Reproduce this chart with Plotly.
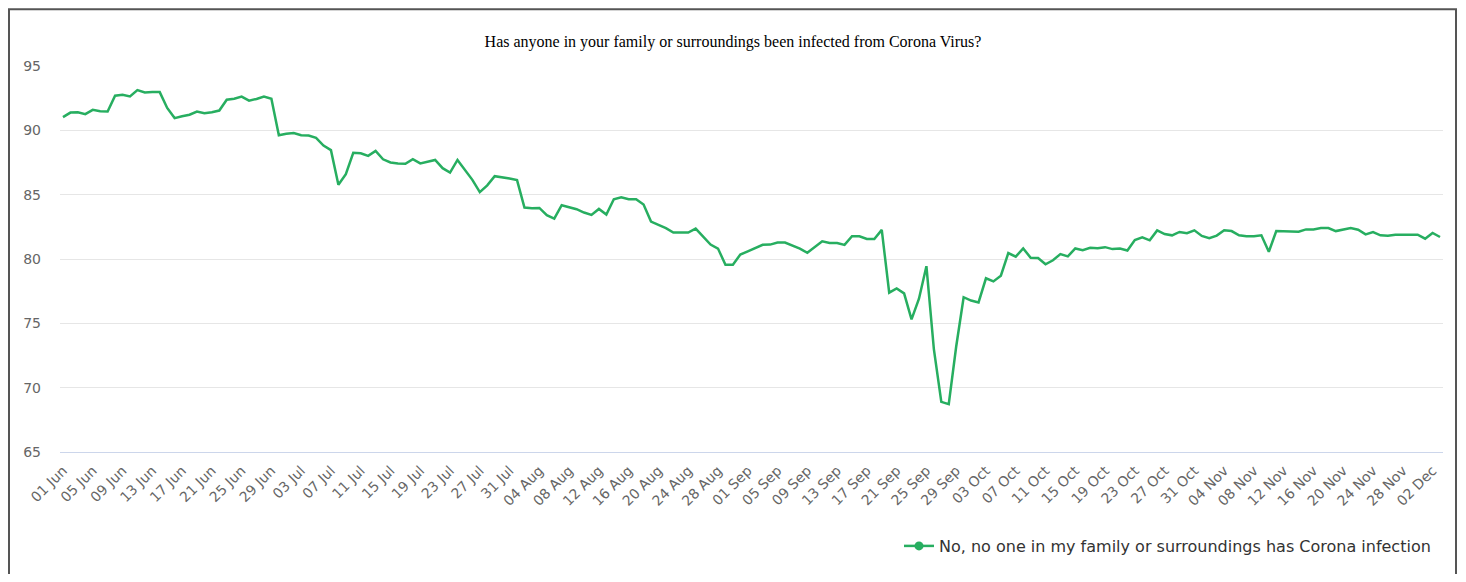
import pandas as pd
import plotly.graph_objects as go

title_text = "Has anyone in your family or surroundings been infected from Corona Virus?"
series_name = "No, no one in my family or surroundings has Corona infection"

dates = pd.date_range("2020-06-01", periods=186, freq="D")
categories = [d.strftime("%d %b") for d in dates]

values = [
    91.03, 91.38, 91.41, 91.26, 91.59, 91.49, 91.46, 92.69, 92.77, 92.64,
    93.13, 92.95, 92.97, 92.97, 91.74, 90.95, 91.10, 91.21, 91.46, 91.33,
    91.41, 91.54, 92.38, 92.46, 92.62, 92.31, 92.44, 92.62, 92.46, 89.62,
    89.74, 89.79, 89.62, 89.59, 89.41, 88.82, 88.46, 85.77, 86.59, 88.26,
    88.22, 88.02, 88.40, 87.75, 87.50, 87.42, 87.40, 87.76, 87.43, 87.57,
    87.70, 87.06, 86.72, 87.70, 86.95, 86.15, 85.20, 85.72, 86.44, 86.37,
    86.26, 86.13, 84.00, 83.94, 83.97, 83.40, 83.14, 84.18, 84.02, 83.87,
    83.61, 83.43, 83.89, 83.45, 84.64, 84.79, 84.64, 84.64, 84.23, 82.91,
    82.65, 82.40, 82.06, 82.06, 82.06, 82.36, 81.77, 81.12, 80.81, 79.56,
    79.56, 80.35, 80.60, 80.86, 81.10, 81.12, 81.28, 81.28, 81.05, 80.81,
    80.48, 80.94, 81.38, 81.25, 81.25, 81.10, 81.77, 81.77, 81.56, 81.56,
    82.26, 77.38, 77.71, 77.33, 75.31, 76.91, 79.44, 73.00, 68.90, 68.72,
    73.20, 77.03, 76.77, 76.62, 78.50, 78.26, 78.70, 80.46, 80.18, 80.82,
    80.10, 80.08, 79.59, 79.90, 80.38, 80.20, 80.82, 80.69, 80.87, 80.84,
    80.92, 80.77, 80.82, 80.66, 81.48, 81.68, 81.45, 82.22, 81.94, 81.84,
    82.10, 82.00, 82.23, 81.79, 81.62, 81.82, 82.24, 82.17, 81.84, 81.76,
    81.76, 81.84, 80.56, 82.17, 82.17, 82.12, 82.12, 82.30, 82.30, 82.40,
    82.40, 82.17, 82.30, 82.40, 82.27, 81.91, 82.09, 81.84, 81.81, 81.89,
    81.89, 81.89, 81.89, 81.58, 82.02, 81.71,
]

tick_labels = categories[::4]
y_ticks = [65, 70, 75, 80, 85, 90, 95]

GREEN = "#27ae60"
FONT = "DejaVu Sans"

# page offset of the figure (default body margin of the html page)
OFF = 8
PAGE_W, PAGE_H = 1466, 582
W, H = PAGE_W - 2 * OFF, PAGE_H - 2 * OFF
PLOT_L, PLOT_R, PLOT_T, PLOT_B = 60, 1443, 66, 453  # page pixels
L = PLOT_L - OFF
R = (OFF + W) - PLOT_R
T = PLOT_T - OFF
B = (OFF + H) - PLOT_B
pw, ph = PLOT_R - PLOT_L, PLOT_B - PLOT_T

fig = go.Figure()
fig.add_trace(go.Scatter(
    x=categories, y=values, mode="lines",
    line=dict(color=GREEN, width=2.5),
    showlegend=False, name=series_name,
))
fig.add_trace(go.Scatter(
    x=[None], y=[None], mode="lines+markers",
    line=dict(color=GREEN, width=2.5),
    marker=dict(color=GREEN, size=9),
    name=series_name, showlegend=True,
))


def px_x(p):
    return (p - PLOT_L) / pw


def px_y(p):
    return (PLOT_B - p) / ph


fig.add_shape(type="rect", xref="paper", yref="paper",
              x0=px_x(9), x1=px_x(1456), y0=px_y(640), y1=px_y(9),
              line=dict(color="#555555", width=2), fillcolor="rgba(0,0,0,0)",
              layer="above")

fig.update_layout(
    width=W, height=H,
    margin=dict(l=L, r=R, t=T, b=B, pad=0),
    paper_bgcolor="white", plot_bgcolor="white",
    title=dict(text=title_text, x=(733 - OFF) / W, xanchor="center", xref="container",
               y=1 - (41 - OFF) / H, yanchor="middle", yref="container",
               font=dict(family="Liberation Serif", size=16, color="#000000")),
    font=dict(family=FONT, color="#666666"),
    xaxis=dict(
        type="category", range=[-0.4, 185.4],
        tickmode="array", tickvals=tick_labels, ticktext=tick_labels,
        tickangle=-45, tickfont=dict(family=FONT, size=14, color="#666666"),
        showgrid=False, showline=True, linecolor="#ccd6eb", linewidth=1,
        ticks="", zeroline=False, ticklabelstandoff=4,
    ),
    yaxis=dict(
        range=[65, 95], tickvals=y_ticks, ticktext=[str(v) for v in y_ticks],
        tickfont=dict(family=FONT, size=14, color="#666666"),
        showgrid=True, gridcolor="#e6e6e6", gridwidth=1,
        zeroline=False, showline=False, ticks="", ticklabelstandoff=18,
    ),
    legend=dict(
        x=px_x(1436), xanchor="right", y=px_y(546), yanchor="middle",
        orientation="h", font=dict(family=FONT, size=16, color="#333333"),
        bgcolor="rgba(0,0,0,0)",
    ),
)

fig.write_html("out.html")
